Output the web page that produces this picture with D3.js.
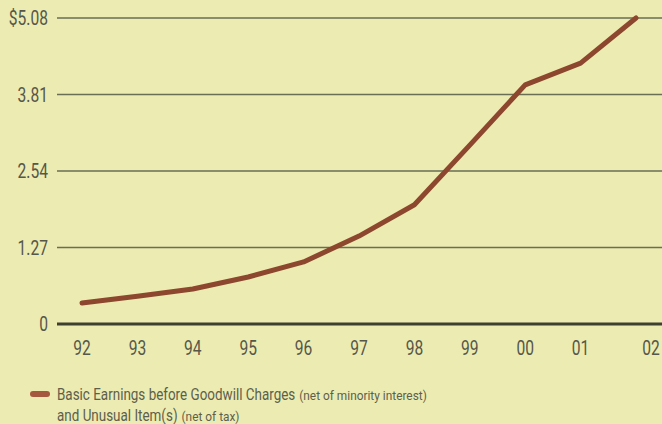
<!DOCTYPE html>
<html>
<head>
<meta charset="utf-8">
<script src="https://cdn.jsdelivr.net/npm/d3@7"></script>
<style>
  html, body { margin: 0; padding: 0; background: #ecebb1; }
  svg { display: block; }
  text { font-family: Roboto, "Noto Sans", sans-serif; }
</style>
</head>
<body>
<svg id="chart" width="662" height="424"></svg>
<script>
// Basic earnings per share, fiscal 1992–2002
const years = ["92", "93", "94", "95", "96", "97", "98", "99", "00", "01", "02"];
const earnings = [0.35, 0.46, 0.58, 0.78, 1.03, 1.46, 1.98, 2.97, 3.97, 4.33, 5.08];
const yTicks = [0, 1.27, 2.54, 3.81, 5.08];
const yTickLabels = ["0", "1.27", "2.54", "3.81", "$5.08"];
const legendLines = [
  ["Basic Earnings before Goodwill Charges", "(net of minority interest)"],
  ["and Unusual Item(s)", "(net of tax)"]
];

const svg = d3.select("#chart");
const W = 662, H = 424;
const narrow = 0.78;      // horizontal squeeze for axis labels
const legendNarrow = 0.84; // squeeze for the legend's main text

svg.append("rect").attr("width", W).attr("height", H).attr("fill", "#ecebb1");

const x = d3.scalePoint().domain(years).range([82, 636]);
const y = d3.scaleLinear().domain([0, 5.08]).range([324, 18]);

// horizontal grid lines
svg.append("g").selectAll("line")
  .data(yTicks.filter(d => d > 0))
  .join("line")
  .attr("x1", 57).attr("x2", W)
  .attr("y1", d => y(d)).attr("y2", d => y(d))
  .attr("stroke", "#6a6e55").attr("stroke-width", 1.6);

// baseline
svg.append("line")
  .attr("x1", 57).attr("x2", W)
  .attr("y1", y(0)).attr("y2", y(0))
  .attr("stroke", "#3d4030").attr("stroke-width", 3);

// y-axis labels
svg.append("g").selectAll("text")
  .data(yTicks)
  .join("text")
  .attr("transform", d => `translate(48,${y(d)}) scale(${narrow},1)`)
  .attr("dy", "0.36em")
  .attr("text-anchor", "end")
  .attr("font-size", 20)
  .attr("fill", "#55574a")
  .text((d, i) => yTickLabels[i]);

// x-axis labels (last label set a little to the right)
svg.append("g").selectAll("text")
  .data(years)
  .join("text")
  .attr("transform", (d, i) => `translate(${x(d) + (i === years.length - 1 ? 15 : 0)},355) scale(${narrow},1)`)
  .attr("text-anchor", "middle")
  .attr("font-size", 20)
  .attr("fill", "#55574a")
  .text(d => d);

// earnings line
const line = d3.line()
  .x((d, i) => x(years[i]))
  .y(d => y(d));

svg.append("path")
  .datum(earnings)
  .attr("d", line)
  .attr("fill", "none")
  .attr("stroke", "#8c472e")
  .attr("stroke-width", 5)
  .attr("stroke-linejoin", "round")
  .attr("stroke-linecap", "round");

// legend
svg.append("line")
  .attr("x1", 33).attr("x2", 47)
  .attr("y1", 394).attr("y2", 394)
  .attr("stroke", "#a5583d")
  .attr("stroke-width", 6)
  .attr("stroke-linecap", "round");

legendLines.forEach(([main, note], i) => {
  const baseY = 400 + i * 21;
  const m = svg.append("text")
    .attr("transform", `translate(57,${baseY}) scale(${legendNarrow},1)`)
    .attr("font-size", 16)
    .attr("fill", "#5d5f4c")
    .text(main);
  const w = m.node().getComputedTextLength() * legendNarrow;
  svg.append("text")
    .attr("transform", `translate(${57 + w + 4},${baseY}) scale(0.95,1)`)
    .attr("font-size", 12.5)
    .attr("fill", "#5d5f4c")
    .text(note);
});
</script>
</body>
</html>
